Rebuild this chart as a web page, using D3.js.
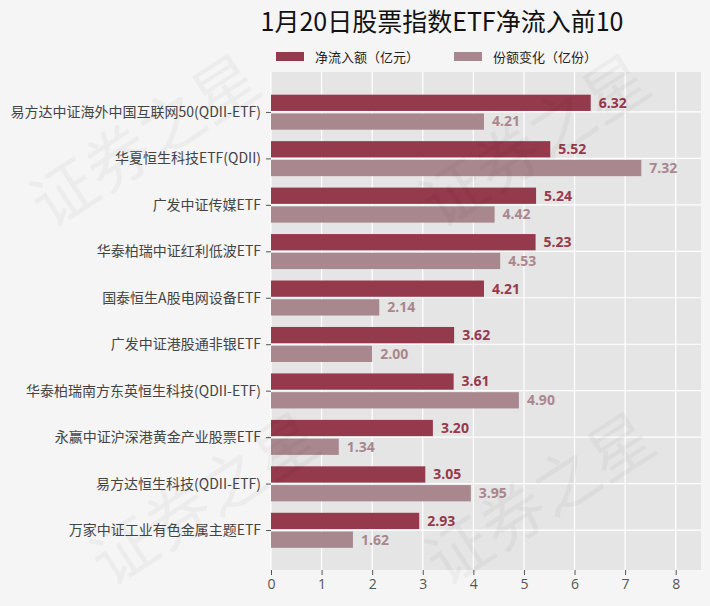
<!DOCTYPE html>
<html>
<head>
<meta charset="utf-8">
<script src="https://cdn.jsdelivr.net/npm/d3@7"></script>
<style>
  body { margin: 0; background: #f5f5f5; }
  svg text { font-family: "Noto Sans CJK SC", "Noto Sans", sans-serif; }
</style>
</head>
<body>
<div id="chart-area"></div>
<script>
// data
const funds = [
  "易方达中证海外中国互联网50(QDII-ETF)",
  "华夏恒生科技ETF(QDII)",
  "广发中证传媒ETF",
  "华泰柏瑞中证红利低波ETF",
  "国泰恒生A股电网设备ETF",
  "广发中证港股通非银ETF",
  "华泰柏瑞南方东英恒生科技(QDII-ETF)",
  "永赢中证沪深港黄金产业股票ETF",
  "易方达恒生科技(QDII-ETF)",
  "万家中证工业有色金属主题ETF"
]
const netInflow = [6.32, 5.52, 5.24, 5.23, 4.21, 3.62, 3.61, 3.20, 3.05, 2.93]
const shareChange = [4.21, 7.32, 4.42, 4.53, 2.14, 2.00, 4.90, 1.34, 3.95, 1.62]
const xTicks = [0, 1, 2, 3, 4, 5, 6, 7, 8]
const seriesNames = ["净流入额（亿元）", "份额变化（亿份）"]

const W = 710, H = 606
const PLOT = {LEFT: 271, RIGHT: 701, TOP: 72, BOTTOM: 570}
const RED = "#953a4c", PINK = "#a9878f"

const svg = d3.select("#chart-area").append("svg")
  .attr("width", W)
  .attr("height", H)

svg.append("rect").attr("width", W).attr("height", H).attr("fill", "#f5f5f5")

// Scales
const x = d3.scaleLinear()
  .domain([0, 8.5])
  .range([PLOT.LEFT, PLOT.RIGHT])

const y = d3.scalePoint()
  .domain(funds)
  .range([PLOT.TOP, PLOT.BOTTOM])
  .padding(0.86)

const barH = y.step() * 0.35

// plot background + grid
svg.append("rect")
  .attr("x", PLOT.LEFT).attr("y", PLOT.TOP)
  .attr("width", PLOT.RIGHT - PLOT.LEFT)
  .attr("height", PLOT.BOTTOM - PLOT.TOP)
  .attr("fill", "#e5e5e5")

svg.append("g").selectAll("line")
  .data(xTicks)
  .join("line")
  .attr("x1", d => x(d)).attr("x2", d => x(d))
  .attr("y1", PLOT.TOP).attr("y2", PLOT.BOTTOM)
  .attr("stroke", "#fff").attr("stroke-width", 1.2)

svg.append("g").selectAll("line")
  .data(funds)
  .join("line")
  .attr("x1", PLOT.LEFT).attr("x2", PLOT.RIGHT)
  .attr("y1", d => y(d)).attr("y2", d => y(d))
  .attr("stroke", "#fff").attr("stroke-width", 1.2)

// Axes
const xAxis = svg.append("g")
  .attr("transform", `translate(0, ${PLOT.BOTTOM})`)
  .call(d3.axisBottom(x).tickValues(xTicks).tickSize(5).tickPadding(4))
xAxis.select(".domain").remove()
xAxis.selectAll("line").attr("stroke", "#555")
xAxis.selectAll("text").attr("fill", "#555").attr("font-size", "14px")
  .style("font-family", "'Open Sans', 'Noto Sans', sans-serif")

const yAxis = svg.append("g")
  .attr("transform", `translate(${PLOT.LEFT}, 0)`)
  .call(d3.axisLeft(y).tickSize(5).tickPadding(5))
yAxis.select(".domain").remove()
yAxis.selectAll("line").attr("stroke", "#555")
yAxis.selectAll("text").attr("fill", "#444").attr("font-size", "14px")

// Bars
const rows = funds.map((f, i) => ({fund: f, net: netInflow[i], share: shareChange[i]}))

svg.append("g").selectAll("rect")
  .data(rows)
  .join("rect")
  .attr("x", x(0))
  .attr("y", d => y(d.fund) - barH - 1)
  .attr("width", d => x(d.net) - x(0))
  .attr("height", barH)
  .attr("fill", RED)

svg.append("g").selectAll("rect")
  .data(rows)
  .join("rect")
  .attr("x", x(0))
  .attr("y", d => y(d.fund) + 1.5)
  .attr("width", d => x(d.share) - x(0))
  .attr("height", barH)
  .attr("fill", PINK)

// value labels
svg.append("g").selectAll("text")
  .data(rows)
  .join("text")
  .attr("x", d => x(d.net) + 8)
  .attr("y", d => y(d.fund) - barH / 2 - 1)
  .attr("dy", "0.35em")
  .attr("font-size", "14px")
  .attr("font-weight", "bold")
  .attr("fill", RED)
  .style("font-family", "'Open Sans', 'Noto Sans', sans-serif")
  .text(d => d.net.toFixed(2))

svg.append("g").selectAll("text")
  .data(rows)
  .join("text")
  .attr("x", d => x(d.share) + 8)
  .attr("y", d => y(d.fund) + barH / 2 + 1.5)
  .attr("dy", "0.35em")
  .attr("font-size", "14px")
  .attr("font-weight", "bold")
  .attr("fill", PINK)
  .style("font-family", "'Open Sans', 'Noto Sans', sans-serif")
  .text(d => d.share.toFixed(2))

// watermark
const marks = [[50, 230], [440, 230], [110, 588], [445, 588]]
marks.forEach(([mx, my]) => {
  svg.append("text")
    .attr("transform", `translate(${mx}, ${my}) rotate(-33)`)
    .attr("font-size", "64px")
    .attr("fill", "#000")
    .attr("opacity", 0.03)
    .text("证券之星")
})

// Title
svg.append("text")
  .attr("x", 442)
  .attr("y", 31)
  .attr("text-anchor", "middle")
  .attr("font-size", "25px")
  .attr("fill", "#111")
  .text("1月20日股票指数ETF净流入前10")

// Legend
const legend = svg.append("g").attr("transform", "translate(276, 52)")
const legendX = [0, 178]
seriesNames.forEach((name, i) => {
  const row = legend.append("g").attr("transform", `translate(${legendX[i]}, 0)`)
  row.append("rect")
    .attr("width", 28)
    .attr("height", 9)
    .attr("fill", i === 0 ? RED : PINK)
  row.append("text")
    .attr("x", 39)
    .attr("y", 5)
    .attr("dy", "0.35em")
    .attr("font-size", "13px")
    .attr("fill", "#222")
    .text(name)
})
</script>
</body>
</html>
